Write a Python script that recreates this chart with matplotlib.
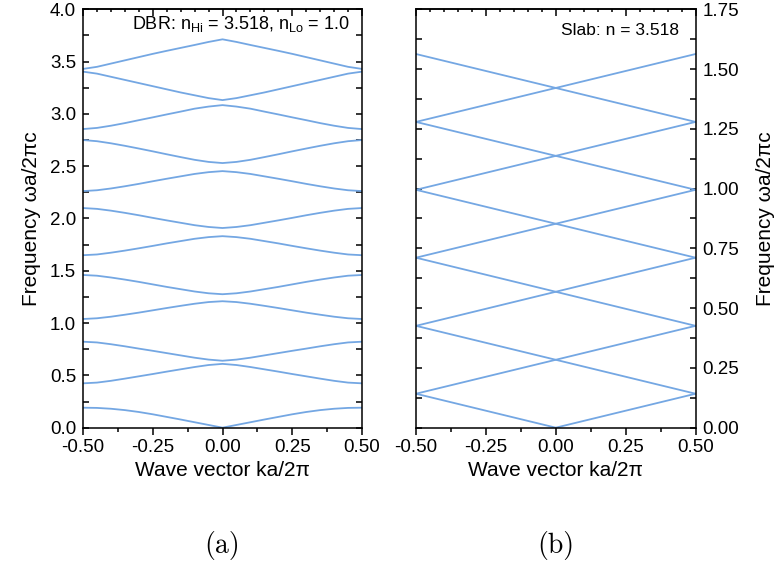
import matplotlib
matplotlib.use("Agg")
import matplotlib.pyplot as plt
from matplotlib.ticker import MultipleLocator, FormatStrFormatter, NullFormatter

plt.rcParams["font.family"] = ["Liberation Sans", "DejaVu Sans"]
plt.rcParams["mathtext.fontset"] = "custom"
plt.rcParams["mathtext.rm"] = "Liberation Sans"
plt.rcParams["mathtext.it"] = "Liberation Sans:italic"
plt.rcParams["axes.unicode_minus"] = False

LINE_COLOR = "#74a7e3"

# wave vector ka/2pi from zone centre to zone edge (bands are even in k)
k_half = [0.00, 0.05, 0.10, 0.15, 0.20, 0.25, 0.30, 0.35, 0.40, 0.45, 0.50]

# DBR bands, frequency wa/2pic at each k_half point
band_1 = [0.000, 0.026, 0.052, 0.078, 0.103, 0.128, 0.150, 0.168, 0.181, 0.189, 0.191]
band_2 = [0.610, 0.599, 0.580, 0.558, 0.536, 0.513, 0.491, 0.469, 0.448, 0.431, 0.424]
band_3 = [0.640, 0.651, 0.669, 0.691, 0.713, 0.735, 0.756, 0.778, 0.798, 0.815, 0.822]
band_4 = [1.209, 1.201, 1.185, 1.165, 1.144, 1.122, 1.100, 1.080, 1.061, 1.046, 1.039]
band_5 = [1.276, 1.285, 1.302, 1.324, 1.346, 1.370, 1.394, 1.416, 1.436, 1.453, 1.460]
band_6 = [1.831, 1.822, 1.806, 1.784, 1.762, 1.738, 1.715, 1.693, 1.673, 1.656, 1.649]
band_7 = [1.909, 1.919, 1.936, 1.959, 1.982, 2.006, 2.031, 2.054, 2.075, 2.092, 2.100]
band_8 = [2.453, 2.443, 2.426, 2.403, 2.380, 2.356, 2.331, 2.308, 2.287, 2.270, 2.262]
band_9 = [2.530, 2.541, 2.561, 2.587, 2.614, 2.642, 2.669, 2.695, 2.719, 2.739, 2.750]
band_10 = [3.084, 3.070, 3.050, 3.022, 2.995, 2.967, 2.940, 2.912, 2.887, 2.866, 2.855]
band_11 = [3.132, 3.151, 3.178, 3.205, 3.235, 3.265, 3.295, 3.325, 3.355, 3.385, 3.404]
band_12 = [3.713, 3.688, 3.659, 3.631, 3.603, 3.574, 3.543, 3.512, 3.481, 3.450, 3.430]
dbr_bands = [band_1, band_2, band_3, band_4, band_5, band_6,
             band_7, band_8, band_9, band_10, band_11, band_12]

# uniform slab: folded light lines meet at the zone edge at these frequencies
zone_edges = [-0.5, 0.5]
slab_center = 0.0
slab_edge = [0.142, 0.426, 0.711, 0.995, 1.279, 1.563]


def mirror(values):
    return values[::-1] + values[1:]


def style_axes(ax, ymax, ymajor, yminor, yfmt, labels_right=False):
    ax.set_xlim(-0.5, 0.5)
    ax.set_ylim(0, ymax)

    ax.xaxis.set_major_locator(MultipleLocator(0.25))
    ax.xaxis.set_minor_locator(MultipleLocator(0.125))
    ax.xaxis.set_major_formatter(FormatStrFormatter("%.2f"))
    ax.tick_params(axis="x", which="major", direction="out", length=5,
                   width=1.1, labelsize=13.5, pad=3)
    ax.tick_params(axis="x", which="minor", direction="out", length=3, width=1.1)

    ax.yaxis.set_major_locator(MultipleLocator(ymajor))
    ax.yaxis.set_minor_locator(MultipleLocator(yminor))
    ax.yaxis.set_major_formatter(FormatStrFormatter(yfmt))
    ax.tick_params(axis="y", which="both", direction="in", left=True, right=True,
                   labelleft=not labels_right, labelright=labels_right,
                   length=4, width=1.1, labelsize=13.5, pad=5)

    top = ax.secondary_xaxis("top")
    top.xaxis.set_major_locator(MultipleLocator(0.25))
    top.xaxis.set_minor_locator(MultipleLocator(0.05))
    top.xaxis.set_major_formatter(NullFormatter())
    top.tick_params(which="major", direction="in", length=5, width=1.1)
    top.tick_params(which="minor", direction="in", length=2.5, width=1.1)
    top.spines["top"].set_linewidth(1.1)

    for sp in ax.spines.values():
        sp.set_linewidth(1.1)

    ax.set_xlabel("Wave vector ka/2π", fontsize=15, labelpad=4)


fig = plt.figure(figsize=(7.78, 5.71), dpi=100)
ax1 = fig.add_axes([0.1067, 0.251, 0.3586, 0.7327])
ax2 = fig.add_axes([0.5347, 0.251, 0.3593, 0.7327])

# (a) DBR band structure
k_full = [-k for k in k_half[::-1]] + k_half[1:]
for band in dbr_bands:
    ax1.plot(k_full, mirror(band), color=LINE_COLOR, lw=1.3)

style_axes(ax1, 4.0, 0.5, 0.25, "%.1f")
ax1.set_ylabel("Frequency ωa/2πc", fontsize=15, labelpad=6)
ax1.text(0.455, 3.86, r"DBR: n$_\mathrm{Hi}$ = 3.518, n$_\mathrm{Lo}$ = 1.0",
         fontsize=13, ha="right", va="center")

# (b) homogeneous slab, folded into the first zone
ax2.plot([zone_edges[0], 0.0, zone_edges[1]],
         [slab_edge[0], slab_center, slab_edge[0]], color=LINE_COLOR, lw=1.3)
for lo, hi in zip(slab_edge[:-1], slab_edge[1:]):
    ax2.plot(zone_edges, [lo, hi], color=LINE_COLOR, lw=1.3)
    ax2.plot(zone_edges, [hi, lo], color=LINE_COLOR, lw=1.3)

style_axes(ax2, 1.75, 0.25, 0.125, "%.2f", labels_right=True)
ax2.yaxis.set_label_position("right")
ax2.set_ylabel("Frequency ωa/2πc", fontsize=15, labelpad=12)
ax2.text(0.44, 1.66, "Slab: n = 3.518", fontsize=12.5, ha="right", va="center")

fig.text(222 / 778, 1 - 545 / 571, "(a)", fontfamily="cmr10", fontsize=20,
         ha="center", va="center")
fig.text(556 / 778, 1 - 545 / 571, "(b)", fontfamily="cmr10", fontsize=20,
         ha="center", va="center")

fig.savefig("out.png", dpi=100)
